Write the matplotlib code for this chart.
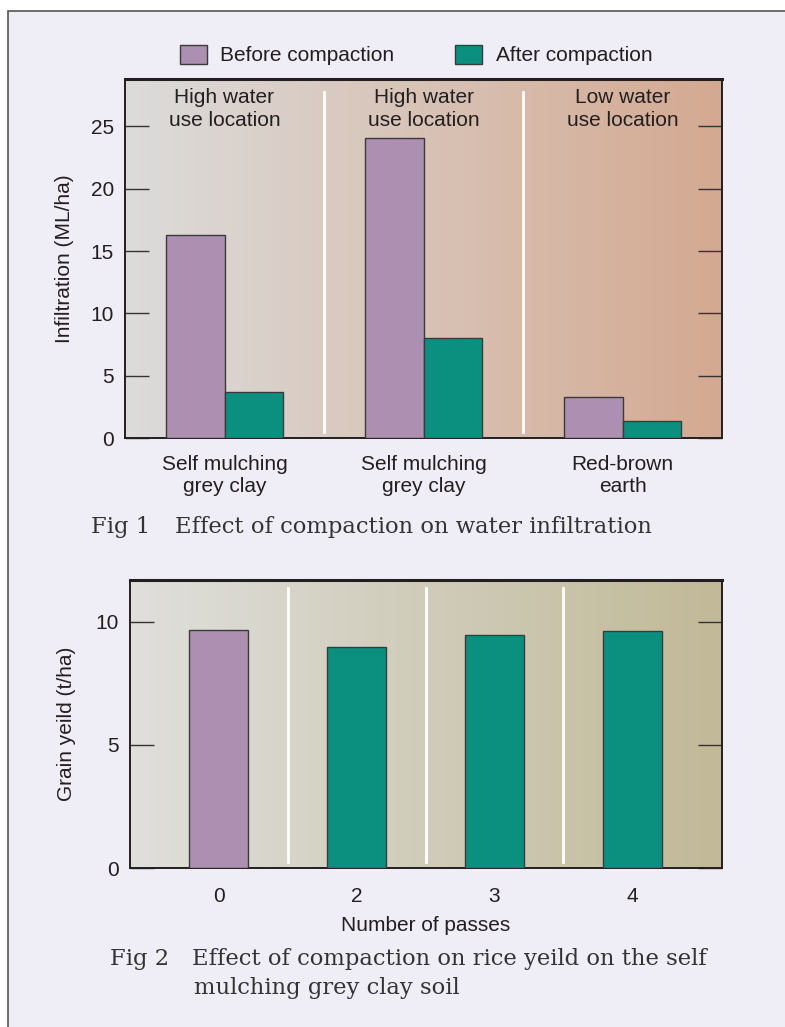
import numpy as np
import matplotlib
matplotlib.use("Agg")
import matplotlib.pyplot as plt
from matplotlib.patches import Rectangle, Patch
from matplotlib.colors import to_rgb

# Fig 1 data
soil_labels = ["Self mulching\ngrey clay", "Self mulching\ngrey clay", "Red-brown\nearth"]
site_labels = ["High water\nuse location", "High water\nuse location", "Low water\nuse location"]
before = [16.3, 24.1, 3.3]
after = [3.7, 8.0, 1.4]

# Fig 2 data
passes = ["0", "2", "3", "4"]
grain_yield = [9.67, 8.98, 9.47, 9.63]

purple = "#ad8fb1"
teal = "#0b9080"
bg = "#efedf6"
dark = "#231f20"
fs = 15

plt.rcParams['font.family'] = ['Liberation Sans', 'DejaVu Sans']

fig = plt.figure(figsize=(7.85, 10.27), dpi=100)
fig.patch.set_facecolor("white")
fig.patches.append(Rectangle((8 / 785, -0.1), 1.1, 1.1 - 11 / 1027, transform=fig.transFigure,
                             facecolor=bg, edgecolor="#555555", linewidth=1.2, zorder=-10))


def gradient(ax, c0, c1):
    x0, x1 = ax.get_xlim()
    y0, y1 = ax.get_ylim()
    t = np.linspace(0, 1, 256)[None, :, None]
    img = (1 - t) * np.array(to_rgb(c0)) + t * np.array(to_rgb(c1))
    ax.imshow(img, extent=(x0, x1, y0, y1), aspect="auto", zorder=0, interpolation="bilinear")
    ax.set_xlim(x0, x1)
    ax.set_ylim(y0, y1)


def style(ax):
    for s in ax.spines.values():
        s.set_color(dark)
        s.set_linewidth(1.4)
    ax.spines["top"].set_linewidth(2.2)
    ax.tick_params(axis="y", direction="in", length=17, width=1, color="#333333",
                   right=True, labelsize=fs, labelcolor=dark, pad=8)
    ax.tick_params(axis="x", length=0, labelsize=fs, labelcolor=dark)


# ---- Fig 1 ----
ax1 = fig.add_axes([125 / 785, 1 - 438 / 1027, 597 / 785, 359 / 1027])
x = np.arange(len(before))
w = 0.296
ax1.set_xlim(-0.5, 2.5)
ax1.set_ylim(0, 28.8)
gradient(ax1, "#dcdcdb", "#d4a991")
ax1.bar(x - w / 2, before, w, color=purple, edgecolor="#3a3a3a", linewidth=1, zorder=3)
ax1.bar(x + w / 2, after, w, color=teal, edgecolor="#3a3a3a", linewidth=1, zorder=3)
for xv in [0.5, 1.5]:
    ax1.axvline(xv, ymin=0.017, ymax=0.964, color="white", linewidth=2, zorder=2)
for xi, lab in zip(x, site_labels):
    ax1.text(xi, 26.4, lab, ha="center", va="center", fontsize=fs, color=dark,
             linespacing=1.25, zorder=4)
ax1.set_xticks(x)
ax1.set_xticklabels(soil_labels, linespacing=1.25)
ax1.set_yticks([0, 5, 10, 15, 20, 25])
style(ax1)
ax1.tick_params(axis="x", pad=12)
ax1.set_ylabel("Infiltration (ML/ha)", fontsize=fs, color=dark, labelpad=12)

fig.legend(handles=[Patch(facecolor=purple, edgecolor="#3a3a3a", label="Before compaction"),
                    Patch(facecolor=teal, edgecolor="#3a3a3a", label="After compaction")],
           loc="center", bbox_to_anchor=(416 / 785, 1 - 55 / 1027), ncol=2, frameon=False,
           fontsize=fs, handlelength=1.3, handleheight=1.05, handletextpad=0.65,
           columnspacing=2.9, labelcolor=dark)

cap = dict(family="DejaVu Serif", fontsize=16.3, color="#333333", va="center")
fig.text(91 / 785, 1 - 527 / 1027, "Fig 1", **cap)
fig.text(175 / 785, 1 - 527 / 1027, "Effect of compaction on water infiltration", **cap)

# ---- Fig 2 ----
ax2 = fig.add_axes([130 / 785, 1 - 868 / 1027, 592 / 785, 288 / 1027])
x2 = np.arange(len(passes))
ax2.set_xlim(-0.645, 3.652)
ax2.set_ylim(0, 11.7)
gradient(ax2, "#dfdfdc", "#c1b997")
ax2.bar(x2, grain_yield, 0.43, color=[purple] + [teal] * 3, edgecolor="#3a3a3a",
        linewidth=1, zorder=3)
for xv in [0.5, 1.5, 2.5]:
    ax2.axvline(xv, ymin=0.021, ymax=0.972, color="white", linewidth=2, zorder=2)
ax2.set_xticks(x2)
ax2.set_xticklabels(passes)
ax2.set_yticks([0, 5, 10])
style(ax2)
ax2.tick_params(axis="x", pad=14)
ax2.set_ylabel("Grain yeild (t/ha)", fontsize=fs, color=dark, labelpad=14)
ax2.set_xlabel("Number of passes", fontsize=fs, color=dark, labelpad=7)

fig.text(110 / 785, 1 - 959 / 1027, "Fig 2", **cap)
fig.text(192 / 785, 1 - 959 / 1027, "Effect of compaction on rice yeild on the self", **cap)
fig.text(194 / 785, 1 - 988 / 1027, "mulching grey clay soil", **cap)

fig.savefig("out.png", dpi=100, facecolor=fig.get_facecolor())
